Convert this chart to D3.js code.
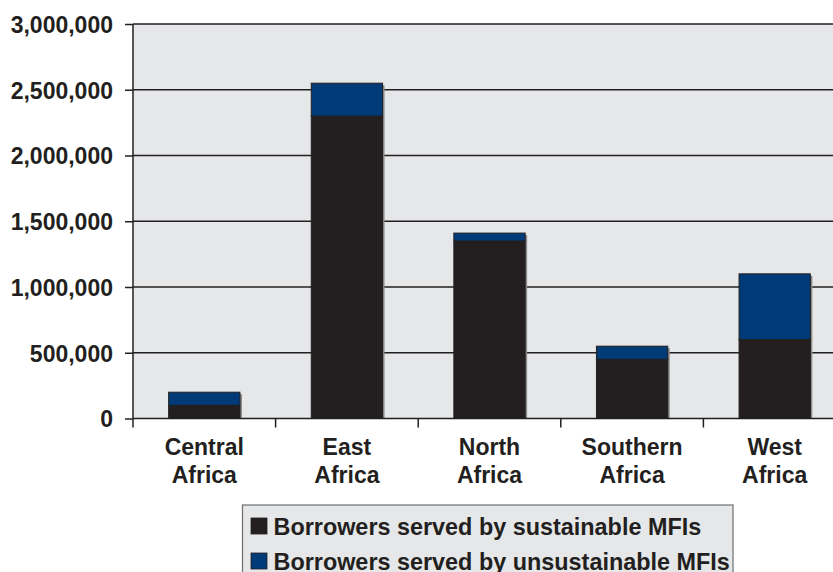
<!DOCTYPE html>
<html>
<head>
<meta charset="utf-8">
<script src="https://cdn.jsdelivr.net/npm/d3@7"></script>
<style>
html,body{margin:0;padding:0;background:#fff;}
svg{display:block;font-family:"Liberation Sans",Arial,Helvetica,sans-serif;font-weight:bold;}
</style>
</head>
<body>
<svg id="chart" width="833" height="572"></svg>
<script>
const categories = [["Central","Africa"],["East","Africa"],["North","Africa"],["Southern","Africa"],["West","Africa"]];
const sustainable = [100000, 2300000, 1350000, 450000, 600000];
const unsustainable = [100000, 250000, 60000, 100000, 500000];
const yTicks = [0, 500000, 1000000, 1500000, 2000000, 2500000, 3000000];
const seriesNames = ["Borrowers served by sustainable MFIs", "Borrowers served by unsustainable MFIs"];
const colors = ["#231f20", "#003b78"];

(function () {
const svg = d3.select("#chart");
const pLeft = 133, pRight = 846, pTop = 24, pBottom = 418.5;
const keys = categories.map(c => c.join(" "));

const x = d3.scaleBand().domain(keys).range([pLeft, pRight]).paddingInner(0.5).paddingOuter(0.25);
const y = d3.scaleLinear().domain([0, 3000000]).range([pBottom, pTop]);

svg.append("rect").attr("x", pLeft).attr("y", pTop).attr("width", pRight - pLeft).attr("height", pBottom - pTop).attr("fill", "#e6e7e8");

svg.append("g").selectAll("line").data(yTicks.filter(d => d > 0)).join("line")
  .attr("x1", pLeft).attr("x2", pRight)
  .attr("y1", d => y(d)).attr("y2", d => y(d))
  .attr("stroke", "#231f20").attr("stroke-width", 1.5);

const rows = keys.map((k, i) => ({ key: k, s: sustainable[i], u: unsustainable[i] }));
const stack = d3.stack().keys(["s", "u"])(rows);

svg.append("g").selectAll("rect").data(rows).join("rect")
  .attr("x", d => x(d.key) + 2).attr("width", x.bandwidth())
  .attr("y", d => y(d.s + d.u) + 2).attr("height", d => pBottom - y(d.s + d.u) - 2)
  .attr("fill", "#8a8a8a");

svg.append("g").selectAll("g").data(stack).join("g")
  .attr("fill", (d, i) => colors[i])
  .selectAll("rect").data(d => d).join("rect")
  .attr("x", d => x(d.data.key)).attr("width", x.bandwidth())
  .attr("y", d => y(d[1])).attr("height", d => y(d[0]) - y(d[1]))
  .attr("stroke", "#231f20").attr("stroke-width", 1);

const yAxis = d3.axisLeft(y).tickValues(yTicks).tickSize(8).tickPadding(12).tickFormat(d3.format(","));
const ya = svg.append("g").attr("transform", `translate(${pLeft},0)`).call(yAxis);
ya.select(".domain").attr("stroke", "#231f20").attr("stroke-width", 1.5).attr("d", `M0,${pTop}V${pBottom}`);
ya.selectAll(".tick line").attr("stroke", "#231f20").attr("stroke-width", 1.5);
ya.selectAll(".tick text").attr("fill", "#231f20").style("font-size", "23px").style("font-weight", "bold")
  .style("font-family", '"Liberation Sans",Arial,sans-serif').attr("dy", "0.36em");

const xa = svg.append("g");
xa.append("line").attr("x1", pLeft).attr("x2", pRight).attr("y1", pBottom).attr("y2", pBottom)
  .attr("stroke", "#231f20").attr("stroke-width", 1.5);
const step = x.step();
const bounds = d3.range(keys.length + 1).map(i => pLeft + i * step);
xa.selectAll(".bt").data(bounds).join("line").attr("class", "bt")
  .attr("x1", d => d).attr("x2", d => d).attr("y1", pBottom).attr("y2", pBottom + 9)
  .attr("stroke", "#231f20").attr("stroke-width", 1.5);

const lab = svg.append("g").selectAll("text").data(categories).join("text")
  .attr("text-anchor", "middle").attr("fill", "#231f20").style("font-size", "23px")
  .attr("x", (d, i) => x(keys[i]) + x.bandwidth() / 2);
lab.selectAll("tspan").data(d => d).join("tspan")
  .attr("x", function () { return this.parentNode.getAttribute("x"); })
  .attr("y", (d, j) => 455 + j * 27.5).text(d => d);

const lg = svg.append("g");
lg.append("rect").attr("x", 242.5).attr("y", 505).attr("width", 490.5).attr("height", 80)
  .attr("fill", "#e6e7e8").attr("stroke", "#6d6e70").attr("stroke-width", 1.2);
seriesNames.forEach((n, i) => {
  lg.append("rect").attr("x", 251).attr("y", 518 + i * 35).attr("width", 16).attr("height", 16)
    .attr("fill", colors[i]).attr("stroke", "#231f20").attr("stroke-width", 0.8);
  lg.append("text").attr("x", 273.5).attr("y", 534.5 + i * 35).attr("fill", "#231f20")
    .style("font-size", "23.4px").text(n);
});
})();
</script>
</body>
</html>
